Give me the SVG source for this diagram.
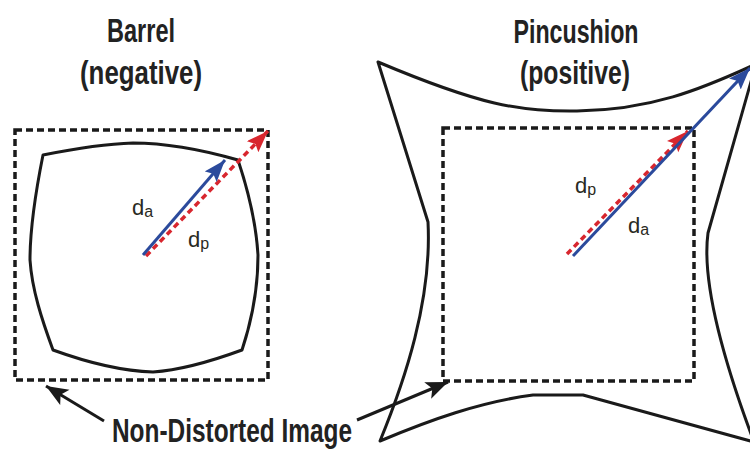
<svg xmlns="http://www.w3.org/2000/svg" width="750" height="450" viewBox="0 0 750 450">
<style>
.title{font-family:"Liberation Sans",Arial,sans-serif;font-size:34px;font-weight:bold;fill:#222;}
.lbl{font-family:"Liberation Sans",Arial,sans-serif;font-size:22px;fill:#2a2a22;}
.shape{fill:none;stroke:#1a1a1a;stroke-width:3;stroke-linejoin:round;}
.frame{fill:none;stroke:#1a1a1a;stroke-width:3.5;stroke-dasharray:7 4;}
.blue{stroke:#2b4a9c;stroke-width:3;fill:none;}
.red{stroke:#d8262e;stroke-width:3.5;stroke-dasharray:6 4;fill:none;}
.ptr{stroke:#1a1a1a;stroke-width:3;fill:none;}
</style>
<defs>
<marker id="hb" markerUnits="userSpaceOnUse" markerWidth="24" markerHeight="20" refX="22" refY="8" orient="auto"><path d="M0,0 L22,8 L0,16 L4,8 Z" fill="#2b4a9c"/></marker>
<marker id="hr" markerUnits="userSpaceOnUse" markerWidth="24" markerHeight="20" refX="22" refY="8" orient="auto"><path d="M0,0 L22,8 L0,16 L4,8 Z" fill="#d8262e"/></marker>
<marker id="hk" markerUnits="userSpaceOnUse" markerWidth="24" markerHeight="20" refX="22" refY="9" orient="auto"><path d="M0,0 L22,9 L0,18 L5,9 Z" fill="#1a1a1a"/></marker>
</defs>

<g id="barrel">
<text class="title" x="141" y="42" text-anchor="middle" textLength="68" lengthAdjust="spacingAndGlyphs">Barrel</text>
<text class="title" x="141" y="84" text-anchor="middle" textLength="122" lengthAdjust="spacingAndGlyphs">(negative)</text>
<rect class="frame" x="15" y="130" width="253" height="250"/>
<path class="shape" d="M43,155 C73,149 103,144 133,143 C168,143 203,150 238,160 C248,190 256,222 258,255 C258,287 252,320 242,350 C212,361 183,370 153,372 C120,371 86,362 53,350 C42,320 32,290 30,260 C30,225 36,190 43,155 Z"/>
<text class="lbl" x="132" y="215">d<tspan font-size="16" dy="2">a</tspan></text>
<text class="lbl" x="188" y="247">d<tspan font-size="16" dy="2">p</tspan></text>
</g>

<g id="pincushion">
<text class="title" x="576" y="43" text-anchor="middle" textLength="125" lengthAdjust="spacingAndGlyphs">Pincushion</text>
<text class="title" x="575" y="84" text-anchor="middle" textLength="110" lengthAdjust="spacingAndGlyphs">(positive)</text>
<path class="shape" stroke-width="2.6" d="M378,62 C480,105 520,112 577,111 C650,110 700,90 756,64 L708,233 C703,270 712,330 754,442 L583,395 L533,395 C480,402 430,420 380,441 C405,380 432,300 428,222 Z"/>
<rect class="frame" x="443" y="128" width="251" height="253"/>
<text class="lbl" x="575" y="193">d<tspan font-size="16" dy="2">p</tspan></text>
<text class="lbl" x="628" y="233">d<tspan font-size="16" dy="2">a</tspan></text>
</g>

<g id="label">
<text class="title" x="232" y="442" text-anchor="middle" textLength="240" lengthAdjust="spacingAndGlyphs">Non-Distorted Image</text>
</g>

<g id="connectors">
<line class="red" x1="146" y1="256" x2="268" y2="131" marker-end="url(#hr)"/>
<line class="blue" x1="143" y1="255" x2="225" y2="160" marker-end="url(#hb)"/>
<line class="red" x1="567" y1="254" x2="688" y2="131" marker-end="url(#hr)"/>
<line class="blue" x1="573" y1="256" x2="750" y2="68" marker-end="url(#hb)"/>
<line class="ptr" x1="104" y1="421" x2="46" y2="386" marker-end="url(#hk)"/>
<line class="ptr" x1="357" y1="420" x2="448" y2="382" marker-end="url(#hk)"/>
</g>
</svg>
